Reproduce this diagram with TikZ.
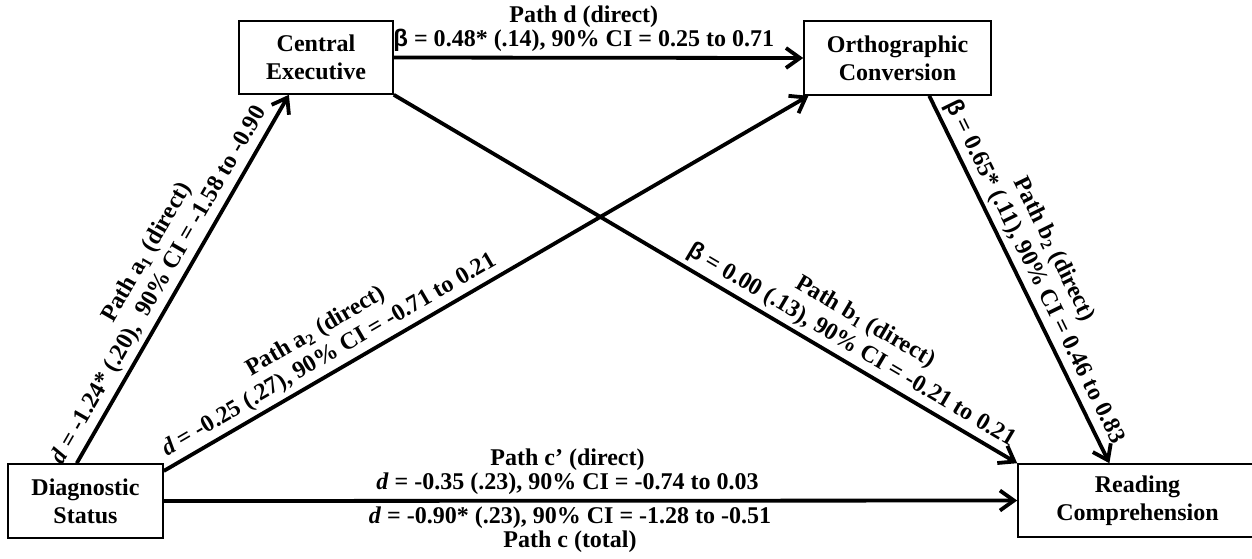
\documentclass[tikz,border=0pt]{standalone}
\usepackage{fontspec}
\setmainfont{Liberation Serif}
\newfontfamily\grk{Liberation Sans}
\newcommand{\bet}{{\grk β}}
\usetikzlibrary{arrows.meta}

\begin{document}
\begin{tikzpicture}[x=0.5pt, y=-0.5pt] %one unit = one pixel of the figure, y runs down
\tikzstyle{every node} = [font=\fontsize{12}{12}\selectfont\bfseries, align=center, inner sep=2pt]
\tikzstyle{slopedlabel} = [above, sloped, font=\fontsize{12}{13.5}\selectfont\bfseries]
\tikzstyle{box} = [draw, line width=0.8pt, inner sep=0pt, font=\fontsize{12}{14}\selectfont\bfseries]
\tikzstyle{link} = [line width=1.9pt, -{Straight Barb[length=7pt, width=10pt]}]
\useasboundingbox (0,0) rectangle (1252,558);

\node[box, minimum width=77pt, minimum height=36.5pt] (ce) at (316,57.5) {Central\\Executive};
\node[box, minimum width=93.5pt, minimum height=37pt] (oc) at (897.5,58) {Orthographic\\Conversion};
\node[box, minimum width=77.5pt, minimum height=37pt] (ds) at (85.5,501) {Diagnostic\\Status};
\node[box, minimum width=119.5pt, minimum height=36.5pt] (rc) at (1137.5,500.5) {Reading\\Comprehension}; %runs past the right edge

\draw[link] (ce.east) -- node[above, pos=0.464, font=\fontsize{12}{11}\selectfont\bfseries] {Path d (direct)\\\bet{} = 0.48* (.14), 90\% CI = 0.25 to 0.71} (oc.west);
\draw[link] (ds.103) -- node[slopedlabel, pos=0.46] {\hspace*{22pt}Path a\textsubscript{1} (direct)\\\textit{d} = -1.24* (.20),\ \ 90\% CI = -1.58 to -0.90} (ce.234);
\draw[link] (ds.21) -- node[slopedlabel, pos=0.27] {Path a\textsubscript{2} (direct)\\\textit{d} = -0.25 (.27), 90\% CI = -0.71 to 0.21} (oc.203);
\draw[link] (ce.south east) -- node[slopedlabel, pos=0.72] {Path b\textsubscript{1} (direct)\\\bet{} = 0.00 (.13), 90\% CI = -0.21 to 0.21} (rc.north west);
\draw[link] (oc.-50.5) -- node[slopedlabel, pos=0.5] {Path b\textsubscript{2} (direct)\hspace*{12pt}\\\bet{} = 0.65* (.11), 90\% CI = 0.46 to 0.83} (rc.127);
\draw[link] (ds.east) -- node[above, pos=0.473] {Path c’ (direct)\\\textit{d} = -0.35 (.23), 90\% CI = -0.74 to 0.03}
  node[below, pos=0.476] {\textit{d} = -0.90* (.23), 90\% CI = -1.28 to -0.51\\Path c (total)} (rc.west);
\end{tikzpicture}
\end{document}
